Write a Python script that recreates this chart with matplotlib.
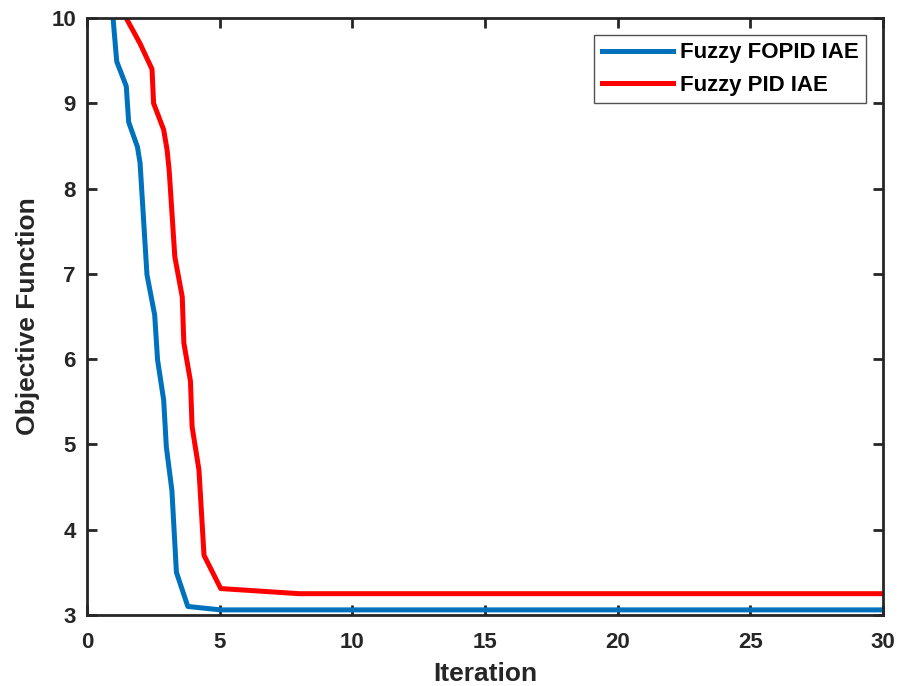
import matplotlib
matplotlib.use("Agg")
import matplotlib.pyplot as plt

# data
fopid_x = [0.9, 1.12, 1.48, 1.57, 1.9, 2.0, 2.26, 2.55, 2.66, 2.89, 2.99, 3.2, 3.37, 3.8, 5.04, 30]
fopid_y = [10.3, 9.49, 9.2, 8.78, 8.49, 8.3, 6.99, 6.52, 5.99, 5.52, 4.97, 4.46, 3.5, 3.1, 3.06, 3.06]
pid_x = [1.3, 2.0, 2.45, 2.51, 2.89, 3.02, 3.1, 3.31, 3.59, 3.65, 3.9, 3.96, 4.22, 4.41, 5.04, 8.0, 30]
pid_y = [10.1, 9.7, 9.4, 9.0, 8.69, 8.45, 8.2, 7.2, 6.73, 6.19, 5.74, 5.21, 4.7, 3.7, 3.31, 3.25, 3.25]

plt.rcParams['font.family'] = ['Liberation Sans', 'DejaVu Sans']
plt.rcParams['font.weight'] = 'bold'

fig = plt.figure(figsize=(9.02, 6.86), dpi=100)
ax = fig.add_axes([87/902, 1 - 615/686, (883-87)/902, (615-18)/686])

ax.plot(fopid_x, fopid_y, color='#0072BD', lw=3.6, label='Fuzzy FOPID IAE')
ax.plot(pid_x, pid_y, color='#FF0000', lw=3.6, label='Fuzzy PID IAE')

ax.set_xlim(0, 30)
ax.set_ylim(3, 10)
ax.set_xticks([0, 5, 10, 15, 20, 25, 30])
ax.set_yticks([3, 4, 5, 6, 7, 8, 9, 10])
ax.tick_params(direction='in', top=True, right=True, length=7, width=2,
               labelsize=16, colors='#262626', pad=8)
ax.tick_params(axis='x', pad=12)
for lab in ax.get_xticklabels() + ax.get_yticklabels():
    lab.set_fontweight('bold')
for sp in ax.spines.values():
    sp.set_linewidth(2)
    sp.set_color('#262626')

ax.set_xlabel('Iteration', fontsize=19, fontweight='bold', color='#262626', labelpad=7)
ax.set_ylabel('Objective Function', fontsize=19, fontweight='bold', color='#262626', labelpad=8)

leg = ax.legend(loc='upper right', frameon=True, fancybox=False,
                edgecolor='#262626', handlelength=3.2, borderaxespad=0.75,
                handletextpad=0.3, borderpad=0.35, labelspacing=0.5,
                prop={'weight': 'bold', 'size': 16})
leg.get_frame().set_linewidth(1.0)

fig.savefig('out.png', dpi=100)
